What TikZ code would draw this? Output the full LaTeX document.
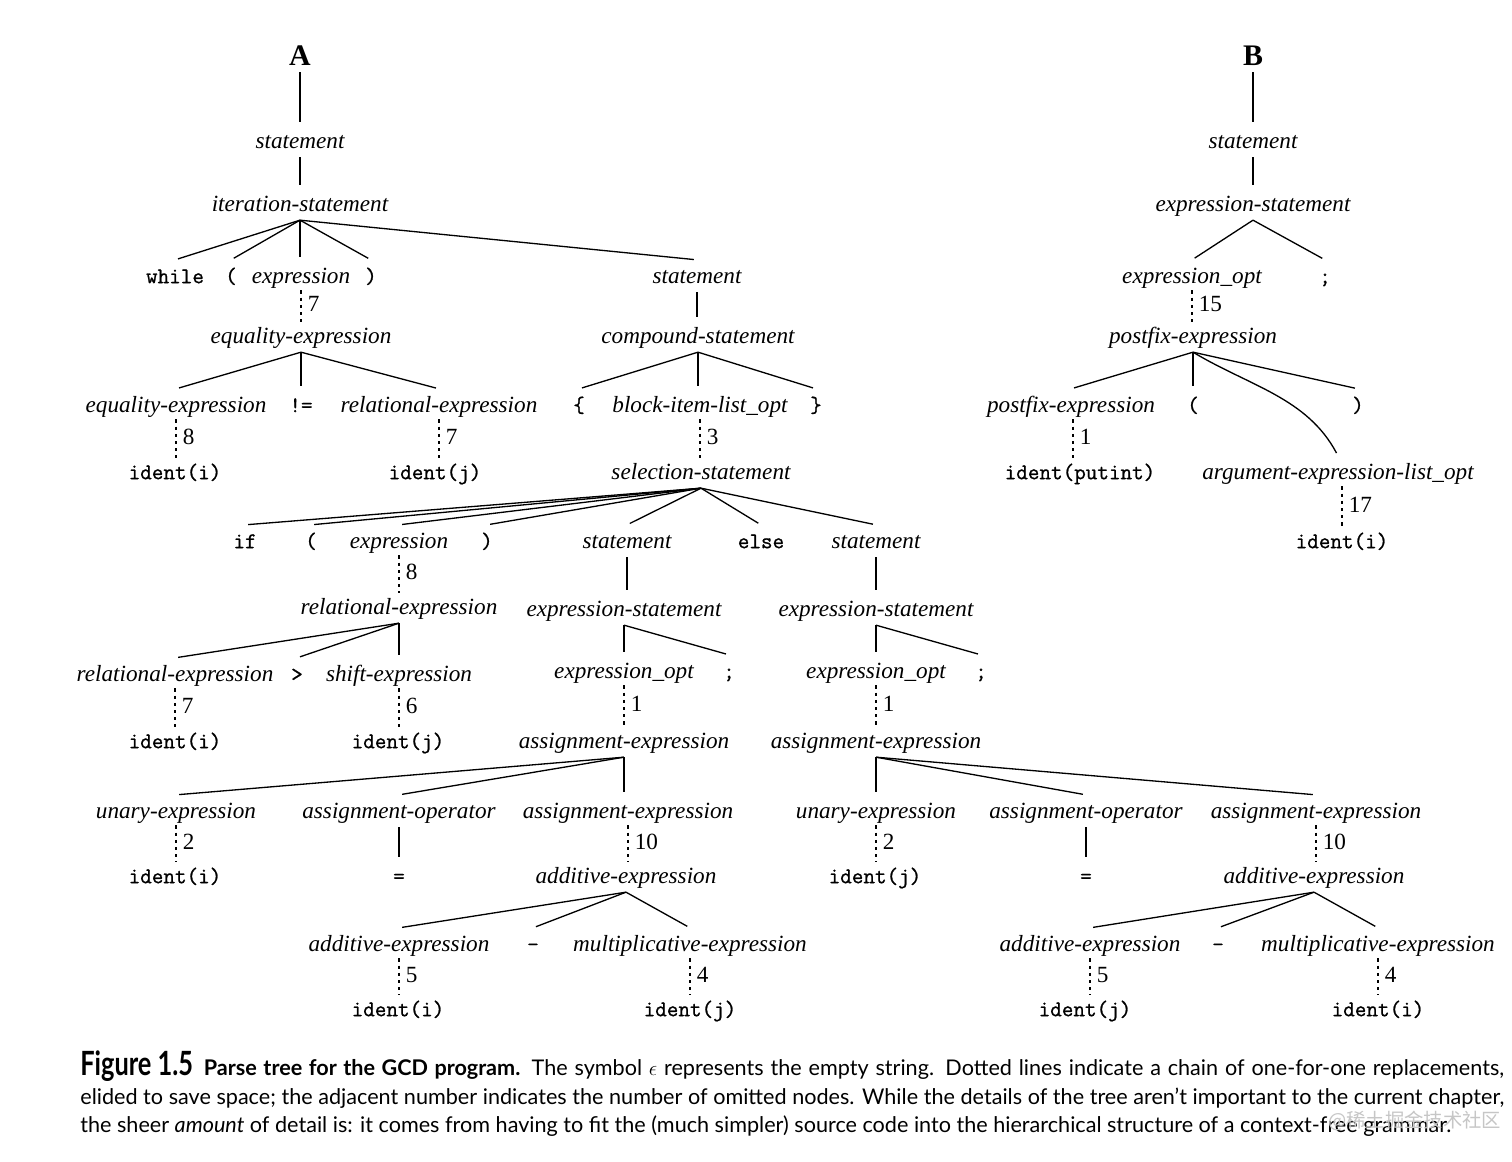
\documentclass[tikz,border=0pt]{standalone}
\usepackage{fontspec}
\setmainfont{Liberation Serif}
\newfontfamily\capfont{Lato}
\newfontfamily\cjkfont{Noto Sans CJK SC}
\newfontfamily\ttfont{Latin Modern Mono}[FakeBold=1.0]
\usetikzlibrary{calc}
\tikzset{
  nodebase/.style={inner xsep=0pt, inner ysep=2pt, text height=11.1pt, text depth=2.9pt},
  nt/.style={nodebase, font=\fontsize{13.2}{15}\selectfont\itshape},
  tt/.style={nodebase, font=\fontsize{12.8}{15}\ttfont},
  treetitle/.style={inner xsep=0pt, inner ysep=2.6pt, text height=13.1pt, text depth=0.9pt, font=\fontsize{17}{20}\selectfont\bfseries},
  branch/.style={draw, line width=0.75pt, shorten >=1.8pt},
  elided/.style={draw, line width=0.75pt, dash pattern=on 1.8pt off 2.3pt, shorten <=-1pt, shorten >=-1pt},
  numlab/.style={midway, anchor=west, inner sep=0pt, xshift=3.5pt, yshift=1pt, font=\fontsize{13.2}{15}\selectfont},
  captext/.style={anchor=base west, inner sep=0pt, font=\capfont\fontsize{12.3}{14}\selectfont}
}
\newcommand\kids[2]{\foreach \c in {#2} {\draw[branch] (#1.south) -- (\c.north);}}
\newcommand\vkid[2]{\draw[branch] (#1.south) -- (#1.south |- #2.north);}
\newcommand\elide[3]{\draw[elided] (#1.south) -- (#1.south |- #2.north) node[numlab] {#3};}
\begin{document}
\begin{tikzpicture}[x=0.02cm, y=-0.02cm]
\useasboundingbox (0,0) rectangle (1512,1161);
\fill[white] (0,0) rectangle (1512,1161);
% ---------------- Tree A ----------------
\node[treetitle] (A) at (300,55) {A};
\node[nt] (a1) at (300,141) {statement};
\node[nt] (a2) at (300,204) {iteration-statement};
\node[tt] (aw) at (175,276) {while};
\node[tt] (alp) at (231,276) {(};
\node[nt] (aex) at (301,276) {expression};
\node[tt] (arp) at (371,276) {)};
\node[nt] (ast) at (697,276) {statement};
\node[nt] (aeq) at (301,336) {equality-expression};
\node[nt] (aeqb) at (176,405) {equality-expression};
\node[tt] (ane) at (301,405) {!=};
\node[nt] (arel) at (439,405) {relational-expression};
\node[tt] (aida) at (175,472) {ident(i)};
\node[tt] (aidb) at (435,472) {ident(j)};
\node[nt] (acs) at (698,336) {compound-statement};
\node[tt] (alb) at (579,405) {\{};
\node[nt] (abl) at (700,405) {block-item-list\_opt};
\node[tt] (arb) at (816,405) {\}};
\node[nt] (asel) at (701,472) {selection-statement};
% row 7
\node[tt] (aif) at (245,541) {if};
\node[tt] (alpb) at (311,541) {(};
\node[nt] (aexb) at (399,541) {expression};
\node[tt] (arpb) at (487,541) {)};
\node[nt] (astb) at (627,541) {statement};
\node[tt] (aelse) at (761,541) {else};
\node[nt] (astc) at (876,541) {statement};
% left branch
\node[nt] (arelb) at (399,607) {relational-expression};
\node[nt] (arelc) at (175,674) {relational-expression};
\node[tt] (agt) at (297,674) {>};
\node[nt] (ash) at (399,674) {shift-expression};
\node[tt] (aidc) at (175,741) {ident(i)};
\node[tt] (aidd) at (398,741) {ident(j)};
% middle branch
\node[nt] (aesa) at (624,609) {expression-statement};
\node[nt] (aeoa) at (624,671) {expression\_opt};
\node[tt] (asca) at (729,671) {;};
\node[nt] (aaea) at (624,741) {assignment-expression};
\node[nt] (auea) at (176,811) {unary-expression};
\node[nt] (aaoa) at (399,811) {assignment-operator};
\node[nt] (aaeb) at (628,811) {assignment-expression};
\node[tt] (aide) at (175,876) {ident(i)};
\node[tt] (aeqa) at (399,876) {=};
\node[nt] (aada) at (626,876) {additive-expression};
\node[nt] (aadb) at (399,944) {additive-expression};
\node[tt] (amia) at (533,944) {-};
\node[nt] (amua) at (690,944) {multiplicative-expression};
\node[tt] (aidf) at (398,1009) {ident(i)};
\node[tt] (aidg) at (690,1009) {ident(j)};
% right branch
\node[nt] (aesb) at (876,609) {expression-statement};
\node[nt] (aeob) at (876,671) {expression\_opt};
\node[tt] (ascb) at (981,671) {;};
\node[nt] (aaec) at (876,741) {assignment-expression};
\node[nt] (aueb) at (876,811) {unary-expression};
\node[nt] (aaob) at (1086,811) {assignment-operator};
\node[nt] (aaed) at (1316,811) {assignment-expression};
\node[tt] (aidh) at (875,876) {ident(j)};
\node[tt] (aeqb2) at (1086,876) {=};
\node[nt] (aadc) at (1314,876) {additive-expression};
\node[nt] (aadd) at (1090,944) {additive-expression};
\node[tt] (amib) at (1218,944) {-};
\node[nt] (amub) at (1378,944) {multiplicative-expression};
\node[tt] (aidi) at (1085,1009) {ident(j)};
\node[tt] (aidj) at (1378,1009) {ident(i)};
% edges A
\vkid{A}{a1}
\vkid{a1}{a2}
\kids{a2}{aw,alp,arp,ast}
\vkid{a2}{aex}
\elide{aex}{aeq}{7}
\kids{aeq}{aeqb,arel}
\vkid{aeq}{ane}
\elide{aeqb}{aida}{8}
\elide{arel}{aidb}{7}
\vkid{ast}{acs}
\kids{acs}{alb,arb}
\vkid{acs}{abl}
\elide{abl}{asel}{3}
\kids{asel}{aif,alpb,aexb,arpb,astb,aelse,astc}
\elide{aexb}{arelb}{8}
\kids{arelb}{arelc,agt}
\vkid{arelb}{ash}
\elide{arelc}{aidc}{7}
\elide{ash}{aidd}{6}
\vkid{astb}{aesa}
\vkid{aesa}{aeoa}
\kids{aesa}{asca}
\elide{aeoa}{aaea}{1}
\kids{aaea}{auea,aaoa}
\vkid{aaea}{aaeb}
\elide{auea}{aide}{2}
\vkid{aaoa}{aeqa}
\elide{aaeb}{aada}{10}
\kids{aada}{aadb,amia,amua}
\elide{aadb}{aidf}{5}
\elide{amua}{aidg}{4}
\vkid{astc}{aesb}
\vkid{aesb}{aeob}
\kids{aesb}{ascb}
\elide{aeob}{aaec}{1}
\vkid{aaec}{aueb}
\kids{aaec}{aaob,aaed}
\elide{aueb}{aidh}{2}
\vkid{aaob}{aeqb2}
\elide{aaed}{aadc}{10}
\kids{aadc}{aadd,amib,amub}
\elide{aadd}{aidi}{5}
\elide{amub}{aidj}{4}
% ---------------- Tree B ----------------
\node[treetitle] (B) at (1253,55) {B};
\node[nt] (b1) at (1253,141) {statement};
\node[nt] (b2) at (1253,204) {expression-statement};
\node[nt] (beo) at (1192,276) {expression\_opt};
\node[tt] (bsc) at (1325,276) {;};
\node[nt] (bpe) at (1193,336) {postfix-expression};
\node[nt] (bpeb) at (1071,405) {postfix-expression};
\node[tt] (blp) at (1193,405) {(};
\node[tt] (brp) at (1358,405) {)};
\node[tt] (bid) at (1080,472) {ident(putint)};
\node[nt] (bal) at (1338,472) {argument-expression-list\_opt};
\node[tt] (bidb) at (1342,541) {ident(i)};
\vkid{B}{b1}
\vkid{b1}{b2}
\kids{b2}{beo,bsc}
\elide{beo}{bpe}{15}
\kids{bpe}{bpeb,brp}
\vkid{bpe}{blp}
\draw[branch] (bpe.south) to[out=-31, in=118, looseness=0.95] (bal.north);
\draw[elided] ($(bpeb.south)+(2,0)$) -- ($(bpeb.south |- bid.north)+(2,0)$) node[numlab] {1};
\draw[elided] ($(bal.south)+(4,0)$) -- ($(bal.south |- bidb.north)+(4,0)$) node[numlab] {17};
% ---------------- Caption ----------------
\node[captext] (c1) at (80,1075) {\makebox[28.48cm][s]{\scalebox{0.76}[1]{\fontsize{19}{21}\selectfont\bfseries Figure 1.5}\hspace{0.5em}{\bfseries Parse tree for the GCD program.} The symbol $\epsilon$ represents the empty string. Dotted lines indicate a chain of one-for-one replacements,}};
\node[captext] (c2) at (80,1104) {\makebox[28.48cm][s]{elided to save space; the adjacent number indicates the number of omitted nodes. While the details of the tree aren’t important to the current chapter,}};
\node[captext] (c3) at (80,1132) {the sheer \textit{amount} of detail is: it comes from having to fit the (much simpler) source code into the hierarchical structure of a context-free grammar.};
\node[anchor=west, inner sep=0pt, text=gray!45, font=\cjkfont\fontsize{11}{13}\selectfont] (wm) at (1328,1121) {@稀土掘金技术社区};
\end{tikzpicture}
\end{document}
